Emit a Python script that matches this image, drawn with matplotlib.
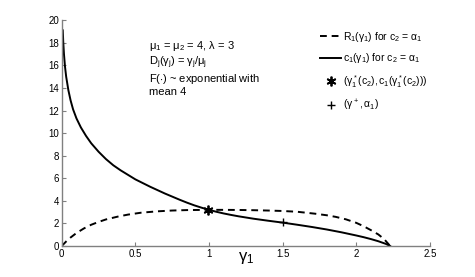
import matplotlib
matplotlib.use("Agg")
import matplotlib.pyplot as plt

# --- data ---
gamma_c = [0.007, 0.01, 0.015, 0.022, 0.03, 0.045, 0.06, 0.077, 0.1, 0.13,
           0.165, 0.2, 0.25, 0.3, 0.35, 0.4, 0.5, 0.6, 0.7, 0.8, 0.85, 0.9,
           0.95, 1.0, 1.05, 1.1, 1.15, 1.2, 1.3, 1.4, 1.5, 1.6, 1.7, 1.8,
           1.9, 2.0, 2.05, 2.1, 2.15, 2.2, 2.23]
c_vals = [19.1, 18.1, 17.0, 15.9, 15.0, 13.8, 12.9, 12.1, 11.3, 10.5,
          9.75, 9.1, 8.35, 7.7, 7.15, 6.7, 5.9, 5.25, 4.65, 4.1, 3.84, 3.6,
          3.39, 3.2, 3.03, 2.88, 2.75, 2.63, 2.42, 2.24, 2.07, 1.88, 1.68, 1.46,
          1.21, 0.93, 0.78, 0.61, 0.42, 0.19, 0.0]

gamma_r = [0.0, 0.03, 0.06, 0.1, 0.15, 0.2, 0.25, 0.3, 0.38, 0.45, 0.54,
           0.65, 0.75, 0.85, 1.0, 1.1, 1.2, 1.3, 1.4, 1.5, 1.6, 1.72, 1.8,
           1.86, 1.93, 2.0, 2.05, 2.1, 2.15, 2.19, 2.23]
r_vals = [0.0, 0.4, 0.75, 1.15, 1.55, 1.88, 2.13, 2.35, 2.6, 2.78, 2.95,
          3.07, 3.14, 3.18, 3.2, 3.2, 3.19, 3.17, 3.14, 3.1, 3.03, 2.86, 2.72,
          2.58, 2.36, 2.05, 1.75, 1.4, 1.02, 0.6, 0.0]

star_pt = (0.99, 3.19)
plus_pt = (1.5, 2.08)

xticks = [0, 0.5, 1, 1.5, 2, 2.5]
xtick_labels = ["0", "0.5", "1", "1.5", "2", "2.5"]
yticks = [0, 2, 4, 6, 8, 10, 12, 14, 16, 18, 20]

plt.rcParams["font.family"] = ["Liberation Sans", "DejaVu Sans"]
plt.rcParams["mathtext.fontset"] = "custom"
plt.rcParams["mathtext.rm"] = "Liberation Sans"
plt.rcParams["mathtext.it"] = "Liberation Sans"
plt.rcParams["mathtext.bf"] = "Liberation Sans:bold"

fig = plt.figure(figsize=(4.75, 2.77), dpi=100)
ax = fig.add_axes([0.130, 0.112, 0.775, 0.815])

ax.plot(gamma_r, r_vals, color="black", lw=1.4, linestyle=(0, (3.5, 2.5)),
        label=r"$R_1(\gamma_1)$ for $c_2$ = $\alpha_1$")
ax.plot(gamma_c, c_vals, color="black", lw=1.4,
        label=r"$c_1(\gamma_1)$ for $c_2$ = $\alpha_1$")
ax.plot([star_pt[0]], [star_pt[1]], linestyle="none", marker=(6, 2, 0),
        color="black", markersize=7, mew=1.3,
        label=r"$(\gamma_1^*(c_2),c_1(\gamma_1^*(c_2)))$")
ax.plot([plus_pt[0]], [plus_pt[1]], linestyle="none", marker="+",
        color="black", markersize=6, mew=1.0,
        label=r"$(\gamma^+,\alpha_1)$")

ax.set_xlim(0, 2.5)
ax.set_ylim(0, 20)
ax.set_xticks(xticks)
ax.set_xticklabels(xtick_labels)
ax.set_yticks(yticks)
ax.tick_params(direction="in", length=3, colors="#808080", labelcolor="black",
               labelsize=7, pad=2)
for side in ["top", "right"]:
    ax.spines[side].set_visible(False)
for side in ["left", "bottom"]:
    ax.spines[side].set_color("#808080")
    ax.spines[side].set_linewidth(1.0)

ax.set_xlabel(r"$\gamma_1$", fontsize=12, labelpad=-6)

ax.text(0.59, 18.3, r"$\mu_1$ = $\mu_2$ = 4, $\lambda$ = 3" + "\n"
        + r"$D_j(\gamma_j)$ = $\gamma_j/\mu_j$" + "\n"
        + r"F($\cdot$) ~ exponential with" + "\n" + "mean 4",
        fontsize=8, va="top", ha="left", linespacing=1.1)

leg = ax.legend(loc="upper right", bbox_to_anchor=(1.02, 1.0), frameon=False,
                fontsize=7.5, handlelength=2.0, handletextpad=0.2,
                labelspacing=0.75)

fig.savefig("out.png", dpi=100)
